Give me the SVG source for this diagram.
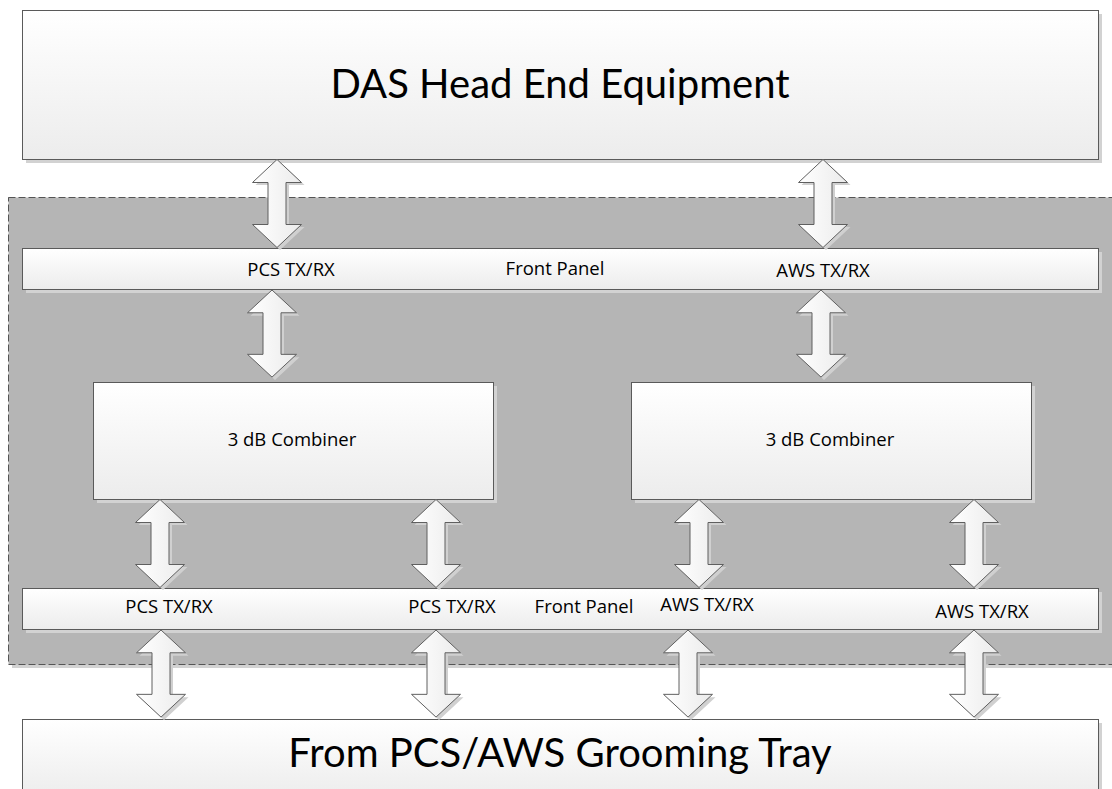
<svg xmlns="http://www.w3.org/2000/svg" width="1112" height="789" viewBox="0 0 1112 789">
<defs>
<linearGradient id="boxGrad" x1="0" y1="0" x2="0" y2="1">
<stop offset="0" stop-color="#ffffff"/>
<stop offset="1" stop-color="#ececec"/>
</linearGradient>
<linearGradient id="arrowGrad" x1="0" y1="0" x2="1" y2="0">
<stop offset="0" stop-color="#ffffff"/>
<stop offset="1" stop-color="#ebebeb"/>
</linearGradient>
<path id="dblArrow" d="M0,0 L24.5,23 L9,23 L9,65 L24.5,65 L0,88 L-24.5,65 L-9,65 L-9,23 L-24.5,23 Z"/>
</defs>
<style>
.box{fill:url(#boxGrad);stroke:#5a5a5a;stroke-width:1}
.shadow{fill:#d2d2d2}
.arrow{fill:url(#arrowGrad);stroke:#5f5f5f;stroke-width:1}
.ashadow{fill:#d0d0d0}
.big{font-family:Lato,"Liberation Sans",sans-serif;font-size:40px;fill:#000;text-anchor:middle}
.lbl{font-family:"Open Sans","Liberation Sans",sans-serif;font-size:18.5px;fill:#000;text-anchor:middle}
</style>
<rect width="1112" height="789" fill="#ffffff"/>

<g id="node-container">
<rect class="shadow" x="12" y="201" width="1110" height="467"/>
<rect x="8.5" y="197.5" width="1110" height="467" fill="#b5b5b5" stroke="#555555" stroke-width="1" stroke-dasharray="7,3"/>
</g>

<g id="node-das-head-end">
<rect class="shadow" x="26" y="14" width="1076" height="149"/>
<rect class="box" x="22.5" y="10.5" width="1076" height="149"/>
<text class="big" x="560" y="98">DAS Head End Equipment</text>
</g>

<g id="node-front-panel-top">
<rect class="shadow" x="26" y="252" width="1076" height="41"/>
<rect class="box" x="22.5" y="248.5" width="1076" height="41"/>
<text class="lbl" x="291" y="276">PCS TX/RX</text>
<text class="lbl" x="555" y="275">Front Panel</text>
<text class="lbl" x="823" y="277">AWS TX/RX</text>
</g>

<g id="node-combiner-pcs">
<rect class="shadow" x="97" y="386" width="400" height="117"/>
<rect class="box" x="93.5" y="382.5" width="400" height="117"/>
<text class="lbl" x="292" y="446">3 dB Combiner</text>
</g>

<g id="node-combiner-aws">
<rect class="shadow" x="635" y="386" width="400" height="117"/>
<rect class="box" x="631.5" y="382.5" width="400" height="117"/>
<text class="lbl" x="830" y="446">3 dB Combiner</text>
</g>

<g id="node-front-panel-bottom">
<rect class="shadow" x="26" y="592" width="1076" height="41"/>
<rect class="box" x="22.5" y="588.5" width="1076" height="41"/>
<text class="lbl" x="169" y="613">PCS TX/RX</text>
<text class="lbl" x="452" y="613">PCS TX/RX</text>
<text class="lbl" x="584" y="613">Front Panel</text>
<text class="lbl" x="707" y="611">AWS TX/RX</text>
<text class="lbl" x="982" y="618">AWS TX/RX</text>
</g>

<g id="node-grooming-tray">
<rect class="shadow" x="26" y="723" width="1076" height="80"/>
<rect class="box" x="22.5" y="719.5" width="1076" height="80"/>
<text class="big" x="560" y="767">From PCS/AWS Grooming Tray</text>
</g>

<g id="connectors">
<use href="#dblArrow" class="ashadow" transform="translate(280,162)"/>
<use href="#dblArrow" class="arrow" transform="translate(277,159.5)"/>
<use href="#dblArrow" class="ashadow" transform="translate(826,162)"/>
<use href="#dblArrow" class="arrow" transform="translate(823,159.5)"/>

<use href="#dblArrow" class="ashadow" transform="translate(275,293) scale(1,0.99)"/>
<use href="#dblArrow" class="arrow" transform="translate(272,290) scale(1,0.99)"/>
<use href="#dblArrow" class="ashadow" transform="translate(824,293) scale(1,0.99)"/>
<use href="#dblArrow" class="arrow" transform="translate(821,290) scale(1,0.99)"/>

<use href="#dblArrow" class="ashadow" transform="translate(163,502)"/>
<use href="#dblArrow" class="arrow" transform="translate(160,499.5)"/>
<use href="#dblArrow" class="ashadow" transform="translate(439,502)"/>
<use href="#dblArrow" class="arrow" transform="translate(436,499.5)"/>
<use href="#dblArrow" class="ashadow" transform="translate(702,502)"/>
<use href="#dblArrow" class="arrow" transform="translate(699,499.5)"/>
<use href="#dblArrow" class="ashadow" transform="translate(977,502)"/>
<use href="#dblArrow" class="arrow" transform="translate(974,499.5)"/>

<use href="#dblArrow" class="ashadow" transform="translate(164,633) scale(1,0.99)"/>
<use href="#dblArrow" class="arrow" transform="translate(161,630) scale(1,0.99)"/>
<use href="#dblArrow" class="ashadow" transform="translate(439,633) scale(1,0.99)"/>
<use href="#dblArrow" class="arrow" transform="translate(436,630) scale(1,0.99)"/>
<use href="#dblArrow" class="ashadow" transform="translate(691,633) scale(1,0.99)"/>
<use href="#dblArrow" class="arrow" transform="translate(688,630) scale(1,0.99)"/>
<use href="#dblArrow" class="ashadow" transform="translate(977,633) scale(1,0.99)"/>
<use href="#dblArrow" class="arrow" transform="translate(974,630) scale(1,0.99)"/>
</g>
</svg>
